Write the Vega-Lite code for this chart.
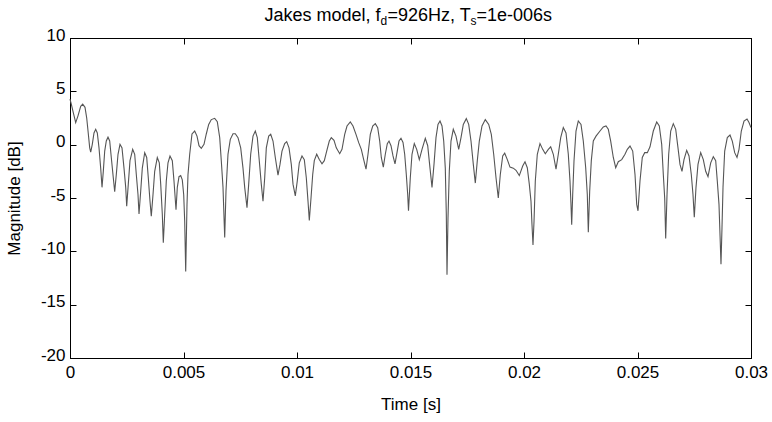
{
  "$schema": "https://vega.github.io/schema/vega-lite/v6.json",
  "autosize": {"type": "none"},
  "width": 681,
  "height": 320,
  "padding": {"left": 70, "top": 38, "right": 21, "bottom": 64},
  "background": "white",
  "config": {
    "view": {"stroke": "black", "strokeWidth": 1},
    "font": "Liberation Sans",
    "axis": {"grid": false, "domainColor": "black", "tickColor": "black", "labelColor": "black", "titleColor": "black", "labelFont": "Liberation Sans", "titleFont": "Liberation Sans", "labelFontSize": 17, "titleFontSize": 17, "titleFontWeight": "normal", "tickSize": -6}
  },
  "datasets": {
    "sig": [
      {"t":0,"m":4.26},{"t":0.0000573,"m":3.8},{"t":0.000145,"m":3.0},{"t":0.000251,"m":2.07},{"t":0.000352,"m":2.7},{"t":0.000471,"m":3.6},{"t":0.000559,"m":3.8},{"t":0.000661,"m":3.5},{"t":0.000736,"m":2.5},{"t":0.000793,"m":1.3},{"t":0.000868,"m":-0.3},{"t":0.000912,"m":-0.7},{"t":0.000982,"m":0.03},{"t":0.001057,"m":1.1},{"t":0.001132,"m":1.44},{"t":0.001203,"m":1.1},{"t":0.001278,"m":-0.3},{"t":0.001352,"m":-2.2},{"t":0.00141,"m":-4.0},{"t":0.001467,"m":-2.5},{"t":0.001529,"m":-0.6},{"t":0.001599,"m":0.35},{"t":0.001674,"m":0.7},{"t":0.001749,"m":0.35},{"t":0.001819,"m":-1.2},{"t":0.001907,"m":-3.1},{"t":0.001969,"m":-4.4},{"t":0.00204,"m":-2.8},{"t":0.002115,"m":-0.9},{"t":0.002203,"m":0.03},{"t":0.002291,"m":-0.3},{"t":0.002379,"m":-2.2},{"t":0.002454,"m":-4.0},{"t":0.002498,"m":-5.76},{"t":0.002568,"m":-3.7},{"t":0.002643,"m":-1.5},{"t":0.002762,"m":-0.44},{"t":0.00285,"m":-0.9},{"t":0.002921,"m":-2.8},{"t":0.002996,"m":-4.7},{"t":0.00304,"m":-6.5},{"t":0.003115,"m":-4.35},{"t":0.003185,"m":-2.2},{"t":0.003291,"m":-0.75},{"t":0.003379,"m":-1.2},{"t":0.003449,"m":-3.1},{"t":0.003524,"m":-5.3},{"t":0.003581,"m":-6.7},{"t":0.003656,"m":-4.7},{"t":0.003731,"m":-2.5},{"t":0.003846,"m":-1.2},{"t":0.003934,"m":-1.7},{"t":0.003996,"m":-3.7},{"t":0.004066,"m":-6.5},{"t":0.00411,"m":-9.2},{"t":0.004172,"m":-6.5},{"t":0.004242,"m":-3.4},{"t":0.004317,"m":-1.7},{"t":0.004405,"m":-1.06},{"t":0.004507,"m":-1.5},{"t":0.004581,"m":-3.4},{"t":0.00467,"m":-6.1},{"t":0.004727,"m":-4.0},{"t":0.004802,"m":-3.0},{"t":0.004877,"m":-2.9},{"t":0.004947,"m":-3.3},{"t":0.005009,"m":-4.7},{"t":0.005053,"m":-7.2},{"t":0.005097,"m":-11.9},{"t":0.005154,"m":-5.6},{"t":0.005198,"m":-2.8},{"t":0.005273,"m":-0.9},{"t":0.005374,"m":1.0},{"t":0.005493,"m":1.28},{"t":0.005595,"m":0.8},{"t":0.005683,"m":-0.1},{"t":0.005784,"m":-0.34},{"t":0.005903,"m":0.03},{"t":0.006004,"m":1.0},{"t":0.00611,"m":1.9},{"t":0.006225,"m":2.35},{"t":0.006374,"m":2.47},{"t":0.006489,"m":2.16},{"t":0.006595,"m":0.66},{"t":0.006665,"m":-1.5},{"t":0.00674,"m":-4.0},{"t":0.006815,"m":-8.7},{"t":0.006872,"m":-4.35},{"t":0.00696,"m":-0.9},{"t":0.007062,"m":0.5},{"t":0.007181,"m":1.03},{"t":0.007282,"m":1.03},{"t":0.007401,"m":0.66},{"t":0.00752,"m":-0.3},{"t":0.007621,"m":-2.2},{"t":0.007696,"m":-4.0},{"t":0.007797,"m":-5.9},{"t":0.007872,"m":-3.7},{"t":0.00796,"m":-0.9},{"t":0.008062,"m":0.8},{"t":0.008163,"m":1.28},{"t":0.008251,"m":0.66},{"t":0.008326,"m":-1.2},{"t":0.008427,"m":-3.7},{"t":0.008502,"m":-5.3},{"t":0.008577,"m":-3.1},{"t":0.008648,"m":-0.3},{"t":0.008753,"m":0.8},{"t":0.008842,"m":0.97},{"t":0.008943,"m":0.34},{"t":0.009044,"m":-1.2},{"t":0.009163,"m":-2.85},{"t":0.009251,"m":-1.85},{"t":0.009339,"m":-0.6},{"t":0.009458,"m":0.1},{"t":0.009546,"m":0.28},{"t":0.009648,"m":-0.3},{"t":0.009749,"m":-1.85},{"t":0.009824,"m":-3.7},{"t":0.009925,"m":-4.8},{"t":0.010013,"m":-3.4},{"t":0.010101,"m":-1.7},{"t":0.01022,"m":-1.06},{"t":0.010322,"m":-1.4},{"t":0.01041,"m":-3.1},{"t":0.010485,"m":-5.3},{"t":0.010542,"m":-7.1},{"t":0.010617,"m":-5.0},{"t":0.010692,"m":-2.8},{"t":0.010762,"m":-1.5},{"t":0.010868,"m":-0.9},{"t":0.010982,"m":-1.4},{"t":0.011101,"m":-1.8},{"t":0.011203,"m":-1.5},{"t":0.011308,"m":-0.6},{"t":0.011423,"m":0.34},{"t":0.011511,"m":0.66},{"t":0.01163,"m":0.4},{"t":0.011731,"m":-0.3},{"t":0.011881,"m":-0.85},{"t":0.011982,"m":-0.44},{"t":0.012101,"m":0.97},{"t":0.012203,"m":1.75},{"t":0.012348,"m":2.13},{"t":0.012467,"m":1.75},{"t":0.012599,"m":0.97},{"t":0.012718,"m":0.19},{"t":0.012833,"m":-0.44},{"t":0.012938,"m":-1.4},{"t":0.01304,"m":-2.3},{"t":0.013128,"m":-0.9},{"t":0.013229,"m":0.97},{"t":0.013335,"m":1.75},{"t":0.01345,"m":1.97},{"t":0.013555,"m":1.6},{"t":0.013643,"m":0.34},{"t":0.013714,"m":-1.2},{"t":0.013802,"m":-2.1},{"t":0.01389,"m":-0.9},{"t":0.013978,"m":0.1},{"t":0.014053,"m":0.34},{"t":0.014141,"m":-0.1},{"t":0.014229,"m":-1.06},{"t":0.014317,"m":-1.8},{"t":0.014405,"m":-0.75},{"t":0.014493,"m":0.34},{"t":0.014581,"m":0.6},{"t":0.01467,"m":0.2},{"t":0.014744,"m":-0.9},{"t":0.014815,"m":-2.8},{"t":0.014877,"m":-4.7},{"t":0.014912,"m":-6.2},{"t":0.014991,"m":-3.1},{"t":0.015066,"m":-0.9},{"t":0.015167,"m":0.1},{"t":0.015273,"m":-0.44},{"t":0.015388,"m":-1.4},{"t":0.015507,"m":-0.44},{"t":0.015652,"m":0.6},{"t":0.015758,"m":-0.1},{"t":0.015859,"m":-2.2},{"t":0.015947,"m":-4.0},{"t":0.016035,"m":-1.85},{"t":0.016123,"m":0.66},{"t":0.016211,"m":1.9},{"t":0.0163,"m":2.22},{"t":0.016388,"m":1.75},{"t":0.016463,"m":0.34},{"t":0.016533,"m":-2.2},{"t":0.016577,"m":-6.5},{"t":0.016608,"m":-12.2},{"t":0.016652,"m":-6.85},{"t":0.016709,"m":-2.5},{"t":0.016784,"m":0.34},{"t":0.016885,"m":1.44},{"t":0.017004,"m":0.8},{"t":0.017123,"m":-0.44},{"t":0.017225,"m":0.66},{"t":0.017326,"m":1.9},{"t":0.017458,"m":2.44},{"t":0.017564,"m":1.9},{"t":0.017665,"m":0.34},{"t":0.017767,"m":-1.85},{"t":0.017855,"m":-3.6},{"t":0.017943,"m":-1.5},{"t":0.018031,"m":0.34},{"t":0.01815,"m":1.75},{"t":0.018295,"m":2.35},{"t":0.018445,"m":1.9},{"t":0.01856,"m":0.97},{"t":0.018665,"m":-0.9},{"t":0.018767,"m":-3.1},{"t":0.018868,"m":-5.0},{"t":0.018956,"m":-2.8},{"t":0.019062,"m":-1.06},{"t":0.01915,"m":-0.8},{"t":0.019265,"m":-1.4},{"t":0.019383,"m":-2.1},{"t":0.019529,"m":-2.2},{"t":0.019648,"m":-2.4},{"t":0.019793,"m":-2.9},{"t":0.019943,"m":-2.0},{"t":0.020044,"m":-1.6},{"t":0.020145,"m":-2.16},{"t":0.020233,"m":-3.7},{"t":0.020308,"m":-5.3},{"t":0.020352,"m":-7.5},{"t":0.020396,"m":-9.4},{"t":0.020441,"m":-7.2},{"t":0.020498,"m":-3.4},{"t":0.020586,"m":-0.9},{"t":0.020705,"m":0.1},{"t":0.020824,"m":-0.44},{"t":0.020938,"m":-0.85},{"t":0.021071,"m":-0.44},{"t":0.021176,"m":-0.2},{"t":0.021291,"m":-0.9},{"t":0.02141,"m":-2.3},{"t":0.021511,"m":-0.9},{"t":0.021617,"m":0.66},{"t":0.021731,"m":1.6},{"t":0.02185,"m":1.1},{"t":0.021952,"m":-0.9},{"t":0.022026,"m":-3.4},{"t":0.02207,"m":-5.6},{"t":0.022101,"m":-7.5},{"t":0.022145,"m":-4.7},{"t":0.022203,"m":-1.5},{"t":0.022291,"m":1.28},{"t":0.022392,"m":2.22},{"t":0.022511,"m":1.9},{"t":0.022612,"m":0.34},{"t":0.022718,"m":-2.16},{"t":0.022789,"m":-4.7},{"t":0.022833,"m":-8.2},{"t":0.022894,"m":-4.35},{"t":0.022965,"m":-1.5},{"t":0.023053,"m":0.34},{"t":0.023172,"m":0.8},{"t":0.023348,"m":1.28},{"t":0.023493,"m":1.66},{"t":0.023612,"m":1.75},{"t":0.023714,"m":1.44},{"t":0.023819,"m":0.34},{"t":0.023934,"m":-1.2},{"t":0.02404,"m":-2.16},{"t":0.024154,"m":-1.6},{"t":0.024304,"m":-1.4},{"t":0.024449,"m":-0.9},{"t":0.024551,"m":-0.44},{"t":0.02467,"m":-0.13},{"t":0.024789,"m":-0.6},{"t":0.02489,"m":-2.8},{"t":0.024965,"m":-5.6},{"t":0.025022,"m":-6.2},{"t":0.02511,"m":-3.4},{"t":0.025211,"m":-1.2},{"t":0.025317,"m":-0.75},{"t":0.025432,"m":-0.75},{"t":0.025551,"m":-0.2},{"t":0.025696,"m":1.28},{"t":0.025846,"m":2.13},{"t":0.02596,"m":1.75},{"t":0.026066,"m":0.03},{"t":0.026137,"m":-2.8},{"t":0.026198,"m":-5.0},{"t":0.026242,"m":-8.8},{"t":0.0263,"m":-4.7},{"t":0.026374,"m":-0.9},{"t":0.026463,"m":1.28},{"t":0.026577,"m":1.97},{"t":0.026683,"m":1.44},{"t":0.026784,"m":-0.3},{"t":0.026872,"m":-1.85},{"t":0.02696,"m":-2.5},{"t":0.027048,"m":-1.4},{"t":0.027167,"m":-0.53},{"t":0.027269,"m":-1.06},{"t":0.02737,"m":-2.8},{"t":0.027445,"m":-4.7},{"t":0.027502,"m":-6.8},{"t":0.027577,"m":-4.0},{"t":0.027665,"m":-1.85},{"t":0.027784,"m":-0.75},{"t":0.027899,"m":-1.4},{"t":0.028004,"m":-2.5},{"t":0.028106,"m":-3.0},{"t":0.028225,"m":-1.7},{"t":0.028339,"m":-1.13},{"t":0.028445,"m":-1.5},{"t":0.028515,"m":-3.4},{"t":0.02859,"m":-5.6},{"t":0.028634,"m":-8.4},{"t":0.028678,"m":-11.2},{"t":0.028722,"m":-7.8},{"t":0.028767,"m":-4.0},{"t":0.028841,"m":-0.6},{"t":0.028956,"m":0.66},{"t":0.029075,"m":0.9},{"t":0.029176,"m":0.34},{"t":0.029282,"m":-0.75},{"t":0.029383,"m":-1.2},{"t":0.029471,"m":-0.44},{"t":0.029573,"m":1.28},{"t":0.029692,"m":2.22},{"t":0.029824,"m":2.4},{"t":0.029912,"m":2.07},{"t":0.03,"m":1.6}
    ],
    "one": [{}]
  },
  "resolve": {"axis": {"x": "independent", "y": "independent"}},
  "layer": [
    {
      "data": {"name": "sig"},
      "mark": {"type": "line", "color": "#555555", "strokeWidth": 1.1, "interpolate": "linear"},
      "encoding": {
        "x": {"field": "t", "type": "quantitative", "scale": {"domain": [0, 0.03], "nice": false, "zero": false},
              "axis": {"orient": "bottom", "title": "Time [s]", "values": [0, 0.005, 0.01, 0.015, 0.02, 0.025, 0.03], "format": "~g", "labelPadding": 12, "titlePadding": 16, "labelFlush": false}},
        "y": {"field": "m", "type": "quantitative", "scale": {"domain": [-20, 10], "nice": false, "zero": false},
              "axis": {"orient": "left", "title": "Magnitude [dB]", "values": [-20, -15, -10, -5, 0, 5, 10], "labelExpr": "'' + datum.value", "labelPadding": 11, "titlePadding": 17, "labelFlush": false, "labelOffset": -3}}
      }
    },
    {
      "data": {"name": "sig"},
      "mark": {"type": "line", "opacity": 0},
      "encoding": {
        "x": {"field": "t", "type": "quantitative", "axis": {"orient": "top", "title": null, "labels": false, "values": [0, 0.005, 0.01, 0.015, 0.02, 0.025, 0.03]}},
        "y": {"field": "m", "type": "quantitative", "axis": {"orient": "right", "title": null, "labels": false, "values": [-20, -15, -10, -5, 0, 5, 10]}}
      }
    },
    {
      "data": {"name": "one"},
      "mark": {"type": "text", "text": "Jakes model, f", "align": "left", "baseline": "alphabetic", "fontSize": 18, "font": "Liberation Sans", "color": "black", "dx": -146, "dy": -17},
      "encoding": {"x": {"datum": 0.015, "axis": null}, "y": {"datum": 10, "axis": null}}
    },
    {
      "data": {"name": "one"},
      "mark": {"type": "text", "text": "d", "align": "left", "baseline": "alphabetic", "fontSize": 12, "font": "Liberation Sans", "color": "black", "dx": -30, "dy": -13},
      "encoding": {"x": {"datum": 0.015, "axis": null}, "y": {"datum": 10, "axis": null}}
    },
    {
      "data": {"name": "one"},
      "mark": {"type": "text", "text": "=926Hz, T", "align": "left", "baseline": "alphabetic", "fontSize": 18, "font": "Liberation Sans", "color": "black", "dx": -23, "dy": -17},
      "encoding": {"x": {"datum": 0.015, "axis": null}, "y": {"datum": 10, "axis": null}}
    },
    {
      "data": {"name": "one"},
      "mark": {"type": "text", "text": "s", "align": "left", "baseline": "alphabetic", "fontSize": 12, "font": "Liberation Sans", "color": "black", "dx": 60, "dy": -13},
      "encoding": {"x": {"datum": 0.015, "axis": null}, "y": {"datum": 10, "axis": null}}
    },
    {
      "data": {"name": "one"},
      "mark": {"type": "text", "text": "=1e-006s", "align": "left", "baseline": "alphabetic", "fontSize": 18, "font": "Liberation Sans", "color": "black", "dx": 66, "dy": -17},
      "encoding": {"x": {"datum": 0.015, "axis": null}, "y": {"datum": 10, "axis": null}}
    }
  ]
}
